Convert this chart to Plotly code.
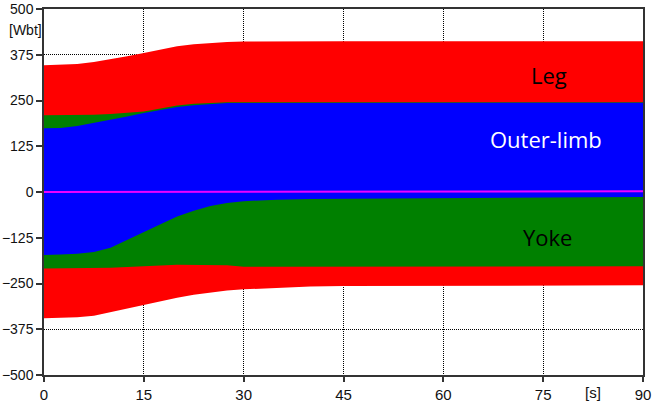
import plotly.graph_objects as go

# time knots [s]
t = [0, 2.5, 5, 7.5, 10, 12.5, 15, 17.5, 20, 22.5, 25, 27.5, 30, 35, 40, 45, 50, 55, 60, 70, 80, 90]

# envelopes [Wbt]
leg_upper = [346, 347, 350, 355, 362, 371, 380, 390, 398, 404, 408, 410, 411, 412, 412, 412, 412, 412, 412, 412, 412, 412]
leg_lower = [-345, -344, -342, -338, -330, -320, -310, -299, -289, -281, -274, -269, -266, -261, -258, -257, -256, -256, -255, -255, -255, -255]

yoke_upper = [210, 210, 210, 211, 213, 216, 220, 228, 236, 241, 244, 245, 245, 245, 245, 245, 245, 245, 245, 245, 245, 245]
yoke_lower = [-209, -209, -208, -208, -207, -205, -204, -201, -199, -199, -199, -200, -204, -204, -204, -204, -204, -204, -204, -203, -203, -203]

outer_upper = [174, 175, 180, 188, 196, 206, 216, 225, 232, 237, 241, 243, 243, 243, 243, 243, 243, 243, 244, 244, 244, 244]
outer_lower = [-172, -171, -169, -164, -152, -131, -110, -88, -67, -51, -38, -30, -25, -21, -19, -18, -17, -16, -16, -15, -15, -14]

dc_t = [0, 90]
dc_val = [0, 2]

x_ticks = [0, 15, 30, 45, 60, 75, 90]
y_ticks = [500, 375, 250, 125, 0, -125, -250, -375, -500]

W, H = 653, 407
ML, MR, MT, MB = 44, 10, 9, 32
PW, PH = W - ML - MR, H - MT - MB

fig = go.Figure()


def band(upper, lower, color, name):
    fig.add_trace(go.Scatter(
        x=t + t[::-1], y=upper + lower[::-1], fill="toself", fillcolor=color,
        mode="lines", line=dict(width=0, color=color), name=name,
        hoverinfo="skip", showlegend=False))


band(leg_upper, leg_lower, "#ff0000", "Leg")
band(yoke_upper, yoke_lower, "#008000", "Yoke")
band(outer_upper, outer_lower, "#0000ff", "Outer-limb")

fig.add_trace(go.Scatter(x=dc_t, y=dc_val, mode="lines",
                         line=dict(color="#ee00ff", width=2), showlegend=False))

tick_font = dict(family="Liberation Sans, Arial", size=14, color="#111")
label_font = dict(family="Open Sans", size=22)

fig.add_annotation(x=75.9, y=319, xref="x", yref="y", text="Leg", showarrow=False,
                   font=dict(color="black", **label_font))
fig.add_annotation(x=75.4, y=144, xref="x", yref="y", text="Outer-limb", showarrow=False,
                   font=dict(color="white", **label_font))
fig.add_annotation(x=75.6, y=-124, xref="x", yref="y", text="Yoke", showarrow=False,
                   font=dict(color="black", **label_font))

fig.add_annotation(x=(25 - ML) / PW, y=1 - (30 - MT) / PH, xref="paper", yref="paper",
                   text="[Wbt]", showarrow=False, xanchor="center", yanchor="middle",
                   font=tick_font)
fig.add_annotation(x=(593 - ML) / PW, y=1 - (392 - MT) / PH, xref="paper", yref="paper",
                   text="[s]", showarrow=False, xanchor="center", yanchor="middle",
                   font=dict(family="Liberation Sans, Arial", size=15, color="#111"))

fig.update_layout(
    width=W, height=H,
    margin=dict(l=ML, r=MR, t=MT, b=MB, autoexpand=False),
    paper_bgcolor="white", plot_bgcolor="white",
    showlegend=False,
)

fig.update_xaxes(range=[0, 90], tickvals=x_ticks, ticks="outside", ticklen=5,
                 tickcolor="#333", tickwidth=1.5,
                 showgrid=True, gridcolor="black", gridwidth=1, griddash="1px,1px",
                 showline=True, linecolor="#333", linewidth=1.5, mirror=True,
                 tickfont=dict(family="Liberation Sans, Arial", size=15, color="#111"),
                 zeroline=False, automargin=False)
fig.update_yaxes(range=[-500, 500], tickvals=y_ticks, ticks="outside", ticklen=6,
                 tickcolor="#333", tickwidth=1.5,
                 showgrid=True, gridcolor="black", gridwidth=1, griddash="1px,1px",
                 showline=True, linecolor="#333", linewidth=1.5, mirror=True,
                 tickfont=tick_font, zeroline=False, automargin=False)

fig.write_html("out.html", config={"displayModeBar": False},
               post_script="document.body.style.margin='0';document.body.style.overflow='hidden';")
